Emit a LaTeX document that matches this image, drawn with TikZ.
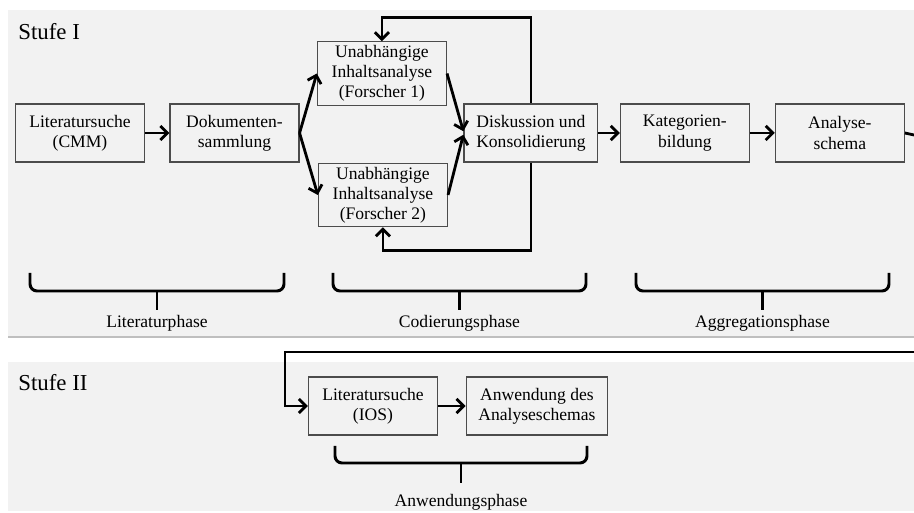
\documentclass[tikz,border=0pt]{standalone}
\usepackage{fontspec}
\setmainfont{Liberation Serif}
\usetikzlibrary{positioning,arrows.meta}

\definecolor{panelgrau}{HTML}{F2F2F2}
\tikzset{
  schritt/.style={draw=black!70, line width=0.7pt, fill=panelgrau, align=center,
    minimum width=2.58cm, minimum height=1.16cm, inner xsep=7pt, inner ysep=2pt,
    font=\fontsize{10}{11.5}\selectfont},
  fluss/.style={line width=1.6pt, -{Straight Barb[length=4pt,width=8pt]}},
  klammer/.style={line width=1.7pt, rounded corners=4pt},
  phase/.style={font=\fontsize{10}{12}\selectfont},
  stufe/.style={font=\fontsize{13}{15}\selectfont, anchor=west, inner sep=0pt}
}

\begin{document}
\begin{tikzpicture}[x=0.02cm, y=-0.02cm, node distance=3.1cm, on grid]
	\useasboundingbox (0,0) rectangle (914,513);
	% Hintergrund
	\fill[panelgrau] (8,10) rectangle (914,336);
	\draw[gray!50, line width=1.2pt] (8,337) -- (914,337);
	\fill[panelgrau] (8,362) rectangle (914,511);
	\node[stufe] (stufe1) at (18,32) {Stufe I};
	\node[stufe] (stufe2) at (18,383) {Stufe II};

	% Stufe I
	\node[schritt] (cmm) at (80,133) {Literatursuche\\(CMM)};
	\node[schritt] (doku) [right=3.09cm of cmm] {Dokumenten-\\sammlung};
	\node[schritt] (f1) [above right=1.19cm and 2.95cm of doku] {Unabhängige\\Inhaltsanalyse\\(Forscher 1)};
	\node[schritt] (f2) [below right=1.24cm and 2.97cm of doku] {Unabhängige\\Inhaltsanalyse\\(Forscher 2)};
	\node[schritt] (disk) [right=5.93cm of doku] {Diskussion und\\Konsolidierung};
	\node[schritt] (kat) [right=3.08cm of disk] {Kategorien-\\bildung};
	\node[schritt] (ana) [right=3.1cm of kat] {Analyse-\\schema};
	\coordinate (aus) at (914,135);

	\draw[fluss] (cmm) -- (doku);
	\draw[fluss] (doku.east) -- (f1.west);
	\draw[fluss] (doku.east) -- (f2.west);
	\draw[fluss] (f1.east) -- ([yshift=1pt]disk.west);
	\draw[fluss] (f2.east) -- ([yshift=-1pt]disk.west);
	\draw[fluss] (disk.north) |- ([yshift=0.48cm]f1.north) -- (f1.north);
	\draw[fluss] (disk.south) |- ([yshift=-0.46cm]f2.south) -- (f2.south);
	\draw[fluss] (disk) -- (kat);
	\draw[fluss] (kat) -- (ana);
	\draw[line width=1.6pt] (ana.east) -- (aus);

	% Phasen
	\foreach \l/\r/\name in {30/284/Literaturphase, 333/586/Codierungsphase, 636/889/Aggregationsphase}{
		\draw[klammer] (\l,273) |- ({(\l+\r)/2},291) -| (\r,273);
		\draw[klammer] ({(\l+\r)/2},291) -- ++(0,19);
		\node[phase] (\name) at ({(\l+\r)/2},323) {\name};
	}

	% Stufe II
	\node[schritt] (ios) at (373,406) {Literatursuche\\(IOS)};
	\node[schritt] (anw) [right=3.28cm of ios] {Anwendung des\\Analyseschemas};
	\coordinate (ein) at (914,352);

	\draw[fluss] (ein) -- (285,352) |- (ios.west);
	\draw[fluss] (ios) -- (anw);

	\draw[klammer] (335,446) |- (461,463) -| (587,446);
	\draw[klammer] (461,463) -- ++(0,20);
	\node[phase] (anwphase) at (461,502) {Anwendungsphase};
\end{tikzpicture}
\end{document}
